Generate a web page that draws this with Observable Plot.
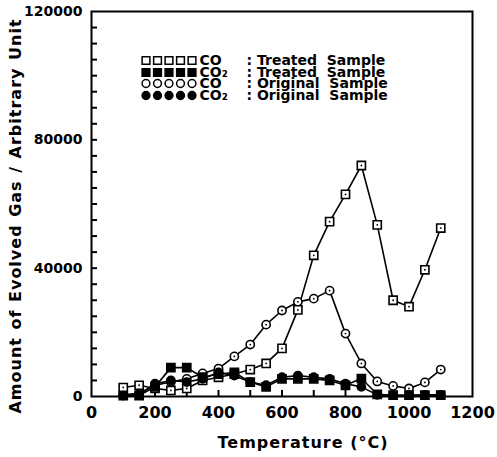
<!DOCTYPE html>
<html>
<head>
<meta charset="utf-8">
<script src="https://cdn.jsdelivr.net/npm/d3@7"></script>
<script src="https://cdn.jsdelivr.net/npm/@observablehq/plot@0.6"></script>
<style>
  html, body { margin: 0; padding: 0; background: #fff; }
  #chart svg { font-family: "DejaVu Sans", sans-serif; font-weight: bold; }
</style>
</head>
<body>
<div id="chart"></div>
<script>
// ---- data ----
const temps = [100,150,200,250,300,350,400,450,500,550,600,650,700,750,800,850,900,950,1000,1050,1100];
const coTreated  = [2800,3500,2500,1900,2500,5000,6000,7000,8400,10300,15000,27000,44000,54500,63000,72000,53500,30000,28000,39500,52500];
const co2Treated = [300,300,3000,9000,9000,6000,7000,7500,4500,3000,5500,5500,5500,5000,3500,5600,700,400,400,400,400];
const coOriginal = [500,1000,3500,4500,5500,7200,8700,12500,16200,22400,26800,29500,30500,33000,19600,10300,4700,3300,2500,4400,8400];
const co2Original= [300,500,4000,5000,4500,5500,7500,6500,4500,3500,6000,6500,6000,5500,4000,3000,500,400,400,500,500];

const xLabelTicks = [0,200,400,600,800,1000,1200];
const xMinorTicks = d3.range(100, 1200, 100);
const yLabelTicks = [0,40000,80000,120000];
const yMinorTicks = d3.range(5000, 120000, 5000);

const seriesNames = ["CO", "CO₂", "CO", "CO₂"];
const seriesDesc  = [": Treated  Sample", ": Treated  Sample", ": Original  Sample", ": Original  Sample"];

const seriesList = [
  {vals: coTreated,  symbol: "square", fill: "white"},
  {vals: co2Treated, symbol: "square", fill: "black"},
  {vals: coOriginal, symbol: "circle", fill: "white"},
  {vals: co2Original,symbol: "circle", fill: "black"}
];

const rows = seriesList.map((s, i) => temps.map((t, j) => ({t, v: s.vals[j], i})));

function symR(sym) { return sym === "square" ? 4.6 : 4.1; }

const W = 497, H = 457, ML = 91, MR = 25, MT = 11, MB = 61;
const xDomain = [0, 1200], yDomain = [0, 120000];
// inward tick length of 6px expressed in each scale's units
const tickLenX = 6 * (xDomain[1] - xDomain[0]) / (W - ML - MR);
const tickLenY = 6 * (yDomain[1] - yDomain[0]) / (H - MT - MB);

const marks = [];
// inward minor ticks
marks.push(Plot.ruleX(xMinorTicks, {x: d => d, y1: yDomain[0], y2: yDomain[0] + tickLenY, stroke: "black", strokeWidth: 2}));
marks.push(Plot.ruleY(yMinorTicks, {y: d => d, x1: xDomain[0], x2: xDomain[0] + tickLenX, stroke: "black", strokeWidth: 2}));
// lines
rows.forEach((r) => marks.push(Plot.line(r, {x: "t", y: "v", stroke: "black", strokeWidth: 1.6})));
// markers
[2, 0, 3, 1].forEach((i) => {
  const s = seriesList[i];
  marks.push(Plot.dot(rows[i], {x: "t", y: "v", symbol: s.symbol, r: symR(s.symbol), fill: s.fill, stroke: "black", strokeWidth: 1.6}));
  if (s.fill === "white") marks.push(Plot.dot(rows[i], {x: "t", y: "v", r: 0.9, fill: "black"}));
});

// legend (inside the frame, top-left)
const legendRowDy = [49, 61, 72, 84];
const legendMarkDx = [54.5, 66, 77.5, 89, 100.5];
seriesList.forEach((s, i) => {
  legendMarkDx.forEach((dx) => {
    marks.push(Plot.dot([i], {frameAnchor: "top-left", dx, dy: legendRowDy[i], symbol: s.symbol, r: symR(s.symbol) * 0.95, fill: s.fill, stroke: "black", strokeWidth: 1.5}));
  });
  marks.push(Plot.text([seriesNames[i]], {text: d => d, frameAnchor: "top-left", dx: 108, dy: legendRowDy[i], textAnchor: "start", lineAnchor: "middle", fontSize: 14, fontWeight: "bold"}));
  marks.push(Plot.text([seriesDesc[i]], {text: d => d, frameAnchor: "top-left", dx: 155, dy: legendRowDy[i], textAnchor: "start", lineAnchor: "middle", fontSize: 14, fontWeight: "bold"}));
});

// frame + axes
marks.push(Plot.frame({stroke: "black", strokeWidth: 2}));
marks.push(Plot.axisX(xLabelTicks, {tickSize: 0, tickPadding: 10, fontSize: 16, fontWeight: "bold", tickFormat: d => String(d), label: null}));
marks.push(Plot.axisY(yLabelTicks, {tickSize: 0, tickPadding: 9, fontSize: 14, fontWeight: "bold", tickFormat: d => String(d), label: null}));
marks.push(Plot.text(["Temperature (°C)"], {text: d => d, frameAnchor: "bottom", dx: 21, dy: 46, lineAnchor: "middle", fontSize: 16, fontWeight: "bold", className: "xtitle"}));
marks.push(Plot.text(["Amount of Evolved Gas / Arbitrary Unit"], {text: d => d, frameAnchor: "left", dx: -76, dy: 12, rotate: -90, textAnchor: "middle", lineAnchor: "middle", fontSize: 16, fontWeight: "bold", className: "ytitle"}));

const chart = Plot.plot({
  width: W,
  height: H,
  marginLeft: ML,
  marginRight: MR,
  marginTop: MT,
  marginBottom: MB,
  x: {domain: xDomain},
  y: {domain: yDomain},
  style: {background: "white", color: "black", fontFamily: "'DejaVu Sans', sans-serif"},
  marks
});
d3.select(chart).selectAll(".xtitle text").attr("letter-spacing", "1px");
d3.select(chart).selectAll(".ytitle text").attr("letter-spacing", "1px").attr("word-spacing", "1px");
document.getElementById("chart").appendChild(chart);
</script>
</body>
</html>
